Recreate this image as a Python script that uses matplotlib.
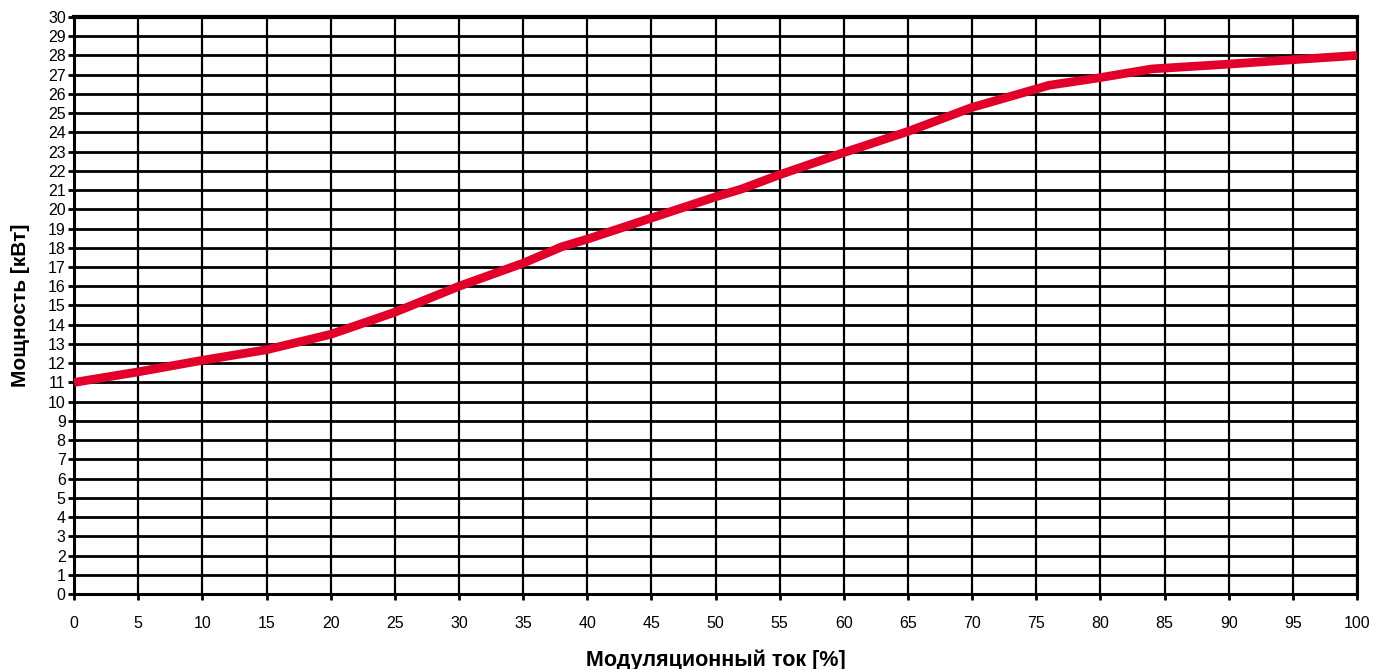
import matplotlib
matplotlib.use('Agg')
import matplotlib.pyplot as plt
import numpy as np

# modulation current [%] and power [kW]
current = [0, 5, 10, 15, 20, 25, 30, 35, 38, 40, 45, 50, 52, 55, 60, 65, 70, 76, 80, 84, 90, 95, 100]
power = [11.0, 11.55, 12.15, 12.7, 13.5, 14.65, 16.0, 17.2, 18.05, 18.45, 19.55, 20.65, 21.05,
         21.8, 22.95, 24.05, 25.3, 26.45, 26.85, 27.3, 27.55, 27.78, 28.0]

x_ticks = list(range(0, 101, 5))
y_ticks = list(range(0, 31))

plt.rcParams['font.family'] = ['Liberation Sans Narrow', 'Liberation Sans', 'DejaVu Sans']

fig = plt.figure(figsize=(13.87, 6.69), dpi=100)
ax = fig.add_axes([0.0534, 0.1121, 0.925, 0.8625])

ax.set_xlim(0, 100)
ax.set_ylim(0, 30)
ax.set_xticks(x_ticks)
ax.set_yticks(y_ticks)

# grid: horizontal lines a bit heavier than vertical ones
for v in y_ticks:
    ax.axhline(v, color='black', lw=2.0, zorder=1)
for v in x_ticks:
    ax.axvline(v, color='black', lw=1.6, zorder=1)

ax.plot(current, power, color='#e2002a', lw=6.3, solid_capstyle='butt', zorder=3)

for side in ['left', 'right', 'bottom']:
    ax.spines[side].set_linewidth(2.2)
ax.spines['top'].set_linewidth(3.0)

ax.tick_params(axis='both', direction='out', length=4, width=2, labelsize=11.5, colors='black')
ax.tick_params(axis='x', pad=12)
ax.tick_params(axis='y', pad=2)

ax.set_xlabel('Модуляционный ток [%]', fontsize=15.5, fontweight='bold',
              family=['Liberation Sans', 'DejaVu Sans'], labelpad=13)
ax.set_ylabel('Мощность [кВт]', fontsize=15, fontweight='bold',
              family=['Liberation Sans', 'DejaVu Sans'], labelpad=13)

fig.savefig('out.png', dpi=100)
